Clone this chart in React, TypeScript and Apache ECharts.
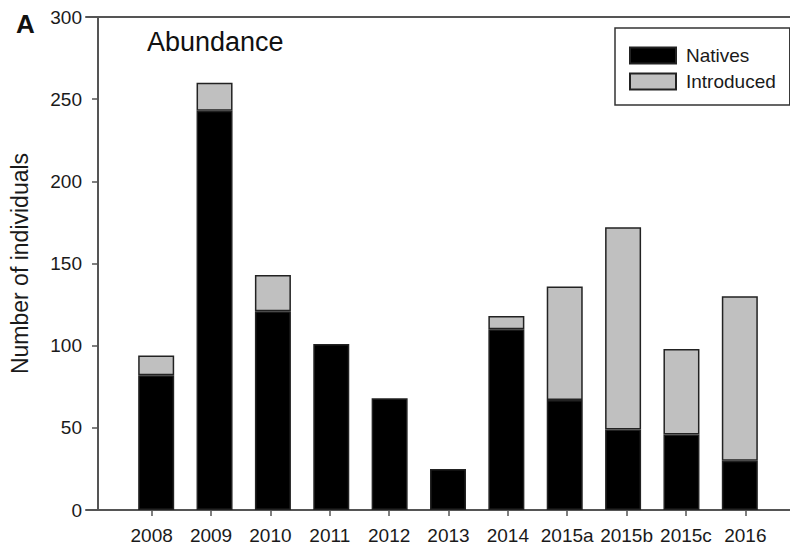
import React, { useEffect, useRef } from 'react';
import * as echarts from 'echarts';

const categories = ['2008', '2009', '2010', '2011', '2012', '2013', '2014', '2015a', '2015b', '2015c', '2016'];
const natives = [82, 243, 121, 101, 68, 25, 110, 67, 49, 46, 30];
const introduced = [12, 17, 22, 0, 0, 0, 8, 69, 123, 52, 100];
const seriesNames = ['Natives', 'Introduced'];
const yMin = 0;
const yMax = 300;
const yStep = 50;

export default function App() {
  const ref = useRef<HTMLDivElement>(null);
  useEffect(() => {
    const chart = echarts.init(ref.current as HTMLDivElement, null, { renderer: 'svg' });
    const font = '"Liberation Sans", Arial, Helvetica, sans-serif';
    const top = 17;
    const bottom = 38;
    const axisColor = '#555';
    const textColor = '#1a1a1a';
    const gridBase = { top, bottom, containLabel: false, outerBoundsMode: 'none' };
    const frameX = (position: string) => ({
      type: 'value', gridIndex: 0, min: 0, max: 1, position,
      axisLine: { show: true, lineStyle: { color: axisColor, width: 2 } },
      axisTick: { show: false }, axisLabel: { show: false }, splitLine: { show: false },
    });
    const hiddenY = (gridIndex: number) => ({ type: 'value', gridIndex, min: yMin, max: yMax, show: false, splitLine: { show: false } });
    chart.setOption({
      animation: false,
      backgroundColor: '#ffffff',
      textStyle: { fontFamily: font },
      grid: [
        { ...gridBase, left: 86, right: 0 },
        { ...gridBase, left: 122, right: 15 },
        { ...gridBase, left: 127, right: 21 },
      ],
      xAxis: [
        frameX('bottom'),
        frameX('top'),
        {
          type: 'category', gridIndex: 1, data: categories,
          axisLine: { show: false },
          axisTick: { show: true, alignWithLabel: true, interval: 0, length: 6, lineStyle: { color: axisColor, width: 1.5 } },
          axisLabel: { interval: 0, margin: 16, fontSize: 19, color: textColor, fontFamily: font },
          splitLine: { show: false },
        },
        { type: 'category', gridIndex: 2, data: categories, show: false },
      ],
      yAxis: [
        {
          type: 'value', gridIndex: 0, min: yMin, max: yMax, interval: yStep, offset: -12,
          axisLine: { show: true, lineStyle: { color: axisColor, width: 2 } },
          axisTick: { show: true, length: 6, lineStyle: { color: axisColor, width: 1.5 } },
          axisLabel: { margin: 16, fontSize: 19, color: textColor, fontFamily: font },
          splitLine: { show: false },
          name: 'Number of individuals', nameLocation: 'middle', nameGap: 67,
          nameTextStyle: { fontSize: 23, color: textColor, fontFamily: font },
        },
        hiddenY(1),
        hiddenY(2),
      ],
      legend: {
        data: seriesNames,
        orient: 'vertical', left: 615, top: 28,
        itemWidth: 46, itemHeight: 16, itemGap: 7,
        padding: [18, 14, 14, 14],
        borderColor: '#333', borderWidth: 1.5,
        icon: 'rect', selectedMode: false,
        textStyle: { fontSize: 19, color: textColor, fontFamily: font, padding: [0, 0, 0, 5] },
      },
      graphic: [
        { type: 'text', left: 16, top: 11, style: { text: 'A', fontSize: 26, fontWeight: 'bold', fill: '#111', fontFamily: font } },
        { type: 'text', left: 147, top: 28, style: { text: 'Abundance', fontSize: 27, fill: '#111', fontFamily: font } },
      ],
      series: [
        {
          name: seriesNames[0], type: 'bar', xAxisIndex: 3, yAxisIndex: 2, stack: 'total', barWidth: 36,
          data: natives,
          itemStyle: { color: '#000000', borderColor: '#222', borderWidth: 1.5 },
        },
        {
          name: seriesNames[1], type: 'bar', xAxisIndex: 3, yAxisIndex: 2, stack: 'total', barWidth: 36,
          data: introduced.map((v) => (v === 0 ? '-' : v)),
          itemStyle: { color: '#c0c0c0', borderColor: '#222', borderWidth: 1.5 },
        },
      ],
    });
    return () => chart.dispose();
  }, []);
  return <div ref={ref} style={{ position: 'fixed', left: 0, top: 0, width: 790, height: 548 }} />;
}
